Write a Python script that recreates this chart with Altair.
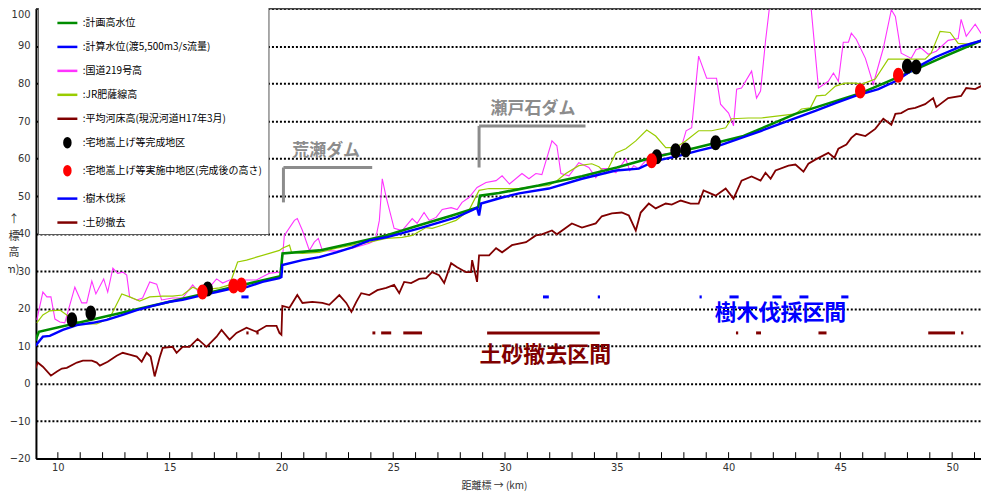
import altair as alt
import pandas as pd

# ---------------- data (km, elevation T.P.m) ----------------
plan_km = [9.0, 9.15, 19.95, 20.05, 21.70, 23.17, 24.69, 26.16, 27.63, 28.80, 28.88, 29.73,
           31.5, 33.44, 35.0, 36.56, 38.5, 40.67, 42.99, 45.94, 47.59, 49.69, 51.6]
plan_val = [11.5, 13.8, 28.6, 34.7, 35.5, 37.4, 39.5, 42.2, 44.8, 47.0, 50.1, 50.8,
            52.8, 55.3, 57.6, 60.2, 62.8, 66.0, 71.9, 77.5, 81.7, 87.3, 92.2]

calc_km = [9.0, 9.33, 9.64, 10.22, 10.85, 11.56, 12.19, 12.90, 13.53, 14.24, 15.0, 15.58, 16.47,
           17.10, 17.68, 18.44, 19.15, 19.91, 20.0, 20.04, 20.94, 21.7, 22.46, 23.17, 23.93, 24.69,
           25.40, 26.16, 26.92, 27.81, 28.53, 28.75, 28.84, 28.93, 29.87, 30.63, 31.96, 33.44, 34.96,
           35.98, 36.74, 37.77, 38.66, 39.55, 40.89, 41.47, 42.99, 43.88, 44.78, 45.67, 46.70, 47.46,
           48.35, 49.24, 50.40, 51.52]
calc_val = [10.1, 12.5, 12.7, 14.3, 15.6, 16.2, 17.0, 18.3, 19.6, 20.7, 21.8, 22.3, 23.6,
            24.4, 25.2, 25.7, 27.1, 28.1, 28.4, 31.6, 32.9, 33.7, 35.0, 36.3, 38.2, 39.0,
            40.1, 41.4, 42.7, 44.3, 46.2, 46.9, 44.8, 48.0, 49.6, 50.7, 52.0, 54.6, 56.8,
            57.3, 59.4, 60.7, 62.1, 63.4, 66.2, 67.4, 70.8, 72.7, 74.8, 76.7, 78.5, 80.6,
            84.1, 87.0, 89.9, 91.8]

road_km = [9.06, 9.33, 9.51, 9.69, 9.87, 10.09, 10.31, 10.76, 11.07, 11.29, 11.52, 11.70, 12.05,
           12.23, 12.46, 12.68, 12.90, 13.08, 13.21, 13.53, 13.79, 14.11, 14.42, 14.64, 15.13,
           15.58, 16.03, 16.34, 16.79, 17.10, 17.37, 17.68, 18.26, 18.88, 19.46, 19.91, 20.0,
           20.13, 20.58, 20.71, 20.94, 21.25, 21.47, 21.65, 21.83, 22.46, 23.17, 23.93, 24.20,
           24.38, 24.51, 24.69, 25.04, 25.40, 25.85, 26.07, 26.38, 26.61, 26.92, 27.19, 27.59,
           27.86, 28.08, 28.39, 28.75, 29.15, 29.60, 29.87, 30.2, 30.76, 31.07, 31.38, 31.65,
           32.10, 32.32, 32.50, 32.86, 33.30, 33.75, 34.06, 34.33, 34.64, 34.96, 35.40, 35.58,
           35.76, 35.98, 36.29, 36.74, 37.19, 37.77, 38.1, 38.35, 38.66, 39.02, 39.46, 39.64,
           40.0, 40.22, 40.36, 40.58, 41.03, 41.25, 41.43, 41.65, 42.0, 43.6, 44.02, 44.46,
           44.69, 44.91, 45.13, 45.36, 45.49, 45.71, 46.12, 46.47, 46.61, 46.92, 47.28, 47.46,
           47.72, 48.17, 48.39, 48.62, 48.93, 49.29, 49.82, 50.27, 50.40, 50.63, 51.03, 51.29,
           51.52]
road_val = [17.0, 24.4, 23.1, 23.1, 17.2, 16.4, 16.2, 25.7, 21.5, 21.5, 27.3, 23.9, 27.9,
            24.4, 30.8, 29.4, 29.7, 28.9, 23.1, 22.3, 22.8, 27.1, 26.5, 22.3, 22.8,
            22.8, 26.3, 24.1, 25.7, 27.9, 26.8, 27.6, 27.6, 27.6, 29.4, 29.7, 30.2,
            39.5, 43.5, 44.0, 40.8, 35.5, 37.7, 38.7, 35.5, 35.3, 36.1, 37.4, 38.2,
            43.5, 54.6, 49.6, 41.4, 40.8, 44.0, 42.7, 45.6, 43.5, 44.3, 46.4, 46.9,
            46.4, 48.3, 49.6, 52.3, 53.6, 54.1, 55.4, 53.2, 56.0, 54.6, 56.0, 55.7,
            64.7, 63.4, 56.0, 55.4, 58.9, 57.6, 54.9, 57.3, 57.3, 56.2, 59.9, 56.8,
            58.1, 57.3, 59.4, 60.7, 61.3, 60.7, 67.4, 68.2, 87.3, 81.4, 81.4, 74.5,
            72.1, 68.7, 78.5, 78.8, 83.3, 76.1, 78.0, 91.2, 109.0, 106.0, 78.8, 80.6,
            82.8, 80.6, 91.0, 91.0, 93.4, 91.8, 86.7, 79.8, 82.8, 89.4, 99.7, 97.9,
            88.1, 86.7, 89.1, 89.4, 87.8, 88.6, 91.5, 92.0, 97.1, 92.6, 95.8, 93.4,
            93.1]

jr_km = [9.06, 9.33, 9.64, 10.09, 10.40, 10.67, 11.12, 11.74, 12.32, 12.86, 13.21, 13.66, 14.11,
         14.69, 15.13, 15.58, 16.03, 16.34, 16.79, 17.23, 17.68, 18.04, 18.44, 18.88, 19.46,
         19.91, 20.04, 20.36, 20.45, 20.94, 21.70, 22.46, 23.17, 23.93, 24.69, 25.40, 25.85,
         26.47, 26.74, 27.19, 27.81, 28.39, 28.84, 29.29, 30.63, 31.21, 31.96, 32.32, 32.72,
         33.30, 33.88, 34.20, 34.51, 34.96, 35.40, 35.85, 36.34, 36.74, 37.19, 37.63, 38.08,
         38.66, 39.24, 39.87, 40.13, 40.89, 41.47, 42.99, 43.26, 43.66, 43.93, 44.33, 44.78,
         45.22, 45.71, 45.94, 46.56, 47.14, 47.72, 48.35, 48.79, 49.06, 49.46, 49.91, 50.27,
         50.71, 51.29, 51.52]
jr_val = [16.2, 18.3, 19.4, 19.6, 18.3, 17.0, 15.9, 15.9, 17.5, 23.9, 23.1, 22.0, 23.1,
          23.3, 23.3, 23.6, 25.7, 24.9, 25.2, 25.5, 26.3, 32.4, 32.9, 33.7, 34.7,
          35.5, 36.1, 36.9, 35.0, 34.7, 35.0, 36.1, 36.9, 37.7, 38.7, 39.0, 39.5,
          41.6, 41.4, 42.2, 43.5, 46.2, 51.5, 52.0, 52.0, 52.5, 52.8, 54.1, 56.0,
          58.1, 58.6, 57.8, 56.0, 61.5, 62.6, 64.7, 67.6, 66.0, 62.9, 62.9, 64.7,
          67.4, 67.4, 68.2, 70.6, 70.8, 70.8, 71.9, 73.2, 73.5, 76.7, 76.9, 79.3,
          80.1, 80.1, 79.8, 81.2, 86.5, 86.5, 86.5, 86.5, 88.1, 93.9, 93.6, 90.7,
          90.5, 91.5, 93.1]

bed_km = [9.0, 9.1, 9.33, 9.69, 9.96, 10.18, 10.40, 10.85, 11.12, 11.52, 11.74, 11.88, 12.23,
          12.63, 12.90, 13.21, 13.53, 13.75, 13.97, 14.15, 14.33, 14.55, 14.69, 15.13, 15.31,
          15.58, 15.89, 16.25, 16.65, 17.10, 17.32, 17.68, 17.99, 18.44, 18.88, 19.33, 19.78,
          19.91, 20.0, 20.04, 20.36, 20.71, 20.94, 21.38, 21.83, 22.14, 22.59, 22.90, 23.13,
          23.35, 23.57, 23.93, 24.29, 24.69, 25.04, 25.27, 25.49, 25.80, 26.16, 26.47, 26.74,
          27.05, 27.28, 27.59, 27.86, 28.26, 28.48, 28.53, 28.75, 28.84, 29.29, 29.60, 29.87,
          30.31, 30.94, 31.38, 31.65, 32.10, 32.32, 32.99, 33.44, 34.06, 34.33, 34.78, 35.22,
          35.54, 35.85, 36.07, 36.43, 36.74, 37.19, 37.46, 37.86, 38.30, 38.66, 38.88, 39.11,
          39.42, 39.87, 40.22, 40.58, 41.03, 41.43, 41.65, 41.88, 42.10, 42.68, 42.99, 43.35,
          43.57, 43.88, 44.46, 44.73, 44.91, 45.27, 45.49, 45.71, 46.12, 46.56, 46.92, 47.28,
          47.46, 47.72, 48.04, 48.35, 48.79, 49.15, 49.29, 49.82, 50.40, 50.63, 51.03, 51.29,
          51.52]
bed_val = [4.0, 5.6, 4.5, 2.1, 3.2, 4.0, 4.2, 5.6, 6.1, 6.1, 5.6, 4.8, 5.8,
           7.4, 8.2, 7.7, 7.2, 5.8, 8.2, 7.2, 1.9, 6.9, 9.5, 9.8, 8.2,
           9.8, 9.8, 11.9, 9.8, 12.5, 14.3, 11.7, 13.5, 14.9, 13.8, 15.4, 15.4,
           13.5, 13.0, 20.7, 20.2, 23.6, 21.5, 21.8, 21.5, 21.0, 23.6, 21.5, 19.1,
           21.8, 24.1, 23.6, 24.9, 25.5, 26.3, 24.1, 27.1, 26.8, 27.9, 28.1, 29.7,
           28.9, 26.8, 32.1, 31.0, 29.7, 29.7, 32.9, 27.1, 34.2, 34.2, 36.1, 35.0,
           36.9, 37.7, 39.5, 39.8, 40.8, 39.8, 42.7, 41.6, 42.7, 44.6, 45.4, 45.6,
           44.8, 40.8, 45.6, 48.0, 46.7, 48.0, 47.7, 48.8, 48.0, 48.0, 51.5, 50.9,
           50.1, 52.0, 49.3, 54.1, 55.2, 54.1, 56.2, 54.6, 56.8, 58.1, 58.4, 56.5,
           58.6, 59.7, 61.5, 60.2, 62.6, 63.7, 65.5, 66.6, 66.0, 67.9, 70.6, 69.0,
           71.9, 72.1, 73.2, 73.5, 74.5, 76.1, 73.7, 76.1, 76.7, 78.8, 78.5, 79.3,
           80.6]

done_km = [10.63, 11.47, 16.70, 36.79, 37.63, 38.08, 39.42, 47.99, 48.39]
done_val = [17.0, 18.8, 25.2, 60.5, 62.1, 62.3, 64.2, 84.6, 84.4]
wip_km = [16.47, 17.86, 18.21, 36.56, 45.89, 47.59]
wip_val = [24.4, 26.0, 26.3, 59.4, 78.0, 82.2]

# 樹木伐採 sections (start km, end km) drawn at one level
tree_start = [18.21, 31.70, 34.15, 38.70, 40.04, 41.96, 43.17, 45.04]
tree_end = [18.53, 31.96, 34.25, 38.80, 40.45, 42.37, 43.57, 45.36]
tree_level = 23.1
# 土砂撤去 sections
sed_start = [18.43, 18.88, 24.07, 24.46, 25.45, 29.20, 40.33, 41.23, 44.02, 48.93, 50.40]
sed_end = [18.53, 18.98, 24.20, 24.91, 26.29, 34.24, 40.43, 41.45, 44.38, 50.13, 50.50]
sed_level = 13.5

# dam brackets: vertical and horizontal pieces
dam_x1 = [20.09, 20.09, 28.84, 28.84]
dam_x2 = [20.09, 24.06, 28.84, 33.60]
dam_y1 = [48.3, 57.6, 57.6, 68.7]
dam_y2 = [57.6, 57.6, 68.7, 68.7]

label_text = ["荒瀬ダム", "瀬戸石ダム", "土砂撤去区間", "樹木伐採区間"]
label_km = [22.0, 31.25, 31.8, 42.32]
label_val = [62.1, 73.2, 7.7, 18.8]
label_color = ["#8c8c8c", "#8c8c8c", "#7f0000", "#0000ff"]
label_size = [17, 17, 22, 22]

x_ticks = [10, 15, 20, 25, 30, 35, 40, 45, 50]
x_minor = list(range(10, 52))
y_ticks = [-20, -10, 0, 10, 20, 30, 40, 50, 60, 70, 80, 90, 100]

names = ["計画高水位", "計算水位(渡5,500m3/s流量)", "国道219号高", "JR肥薩線高",
         "平均河床高(現況河道H17年3月)", "宅地嵩上げ等完成地区",
         "宅地嵩上げ等実施中地区(完成後の高さ)", "樹木伐採", "土砂撤去"]

# ---------------- styling ----------------
GREEN = "#008c00"
BLUE = "#0000ff"
MAGENTA = "#ff33ff"
JRC = "#99cc00"
BROWN = "#800000"
colors = [GREEN, BLUE, MAGENTA, JRC, BROWN, "#000000", "#ff0000", BLUE, BROWN]
LEG_ELL = "M0,-0.45A0.3,0.45,0,1,1,0,0.45A0.3,0.45,0,1,1,0,-0.45Z"
DOT_ELL = "M0,-0.6A0.42,0.6,0,1,1,0,0.6A0.42,0.6,0,1,1,0,-0.6Z"
shapes = ["stroke", "stroke", "stroke", "stroke", "stroke", LEG_ELL, LEG_ELL, "stroke", "stroke"]

CJK = "Noto Sans CJK JP"
NUM = "Liberation Sans Narrow, DejaVu Sans Condensed, Arial Narrow, sans-serif"

XS = alt.Scale(domain=[9.02, 51.29], nice=False, zero=False)
YS = alt.Scale(domain=[-20, 100], nice=False, zero=False)

x_axis = alt.Axis(values=x_ticks, grid=False, ticks=False, domainColor="black", domainWidth=2,
                  labelFont=NUM, labelFontSize=11, labelColor="#333333", labelPadding=3,
                  format="d", title="距離標 → (km)", titleFont=CJK, titleFontSize=10,
                  titleFontWeight="normal", titleColor="#333333", titleX=459, titleY=27,
                  titleBaseline="middle")
y_axis = alt.Axis(values=y_ticks, grid=True, gridColor="black", gridDash=[2, 2], gridWidth=2,
                  ticks=False, domainColor="black", domainWidth=2, labelFont=NUM,
                  labelFontSize=11, labelColor="#333333", labelPadding=6,
                  labelBaseline={"condition": {"test": "datum.value >= 100", "value": "top"},
                                 "value": "middle"},
                  title=["↑", "標", "高", "(T.P.m)"], titleAngle=0, titleX=-17, titleY=211,
                  titleAlign="right", titleBaseline="middle", titleLineHeight=17,
                  titleFont=CJK, titleFontSize=11, titleFontWeight="normal", titleColor="#333333")


def xq(field):
    return alt.X(field, type="quantitative", scale=XS, axis=x_axis)


def yq(field):
    return alt.Y(field, type="quantitative", scale=YS, axis=y_axis)


def line_layer(km, val, color, width):
    df = pd.DataFrame({"km": km, "val": val})
    return alt.Chart(df).mark_line(color=color, strokeWidth=width, clip=True).encode(
        x=xq("km"), y=yq("val"))


layers = []
layers.append(line_layer(bed_km, bed_val, BROWN, 1.8))
layers.append(line_layer(road_km, road_val, MAGENTA, 1.1))
layers.append(line_layer(jr_km, jr_val, JRC, 1.2))
layers.append(line_layer(plan_km, plan_val, GREEN, 2.6))
layers.append(line_layer(calc_km, calc_val, BLUE, 2.4))

# top border
layers.append(alt.Chart(pd.DataFrame({"v": [100]})).mark_rule(color="#444444", strokeWidth=2).encode(
    y=alt.Y("v:Q", scale=YS, axis=y_axis)))

# inward minor ticks on x axis
tick_df = pd.DataFrame({"km": x_minor, "y0": [-20] * len(x_minor), "y1": [-18.3] * len(x_minor)})
layers.append(alt.Chart(tick_df).mark_rule(color="black", strokeWidth=1).encode(
    x=xq("km"), y=yq("y0"), y2="y1"))

# treatment sections
tree_df = pd.DataFrame({"a": tree_start, "b": tree_end, "lv": [tree_level] * len(tree_start)})
layers.append(alt.Chart(tree_df).mark_rule(color=BLUE, strokeWidth=3).encode(
    x=xq("a"), x2="b", y=yq("lv")))
sed_df = pd.DataFrame({"a": sed_start, "b": sed_end, "lv": [sed_level] * len(sed_start)})
layers.append(alt.Chart(sed_df).mark_rule(color=BROWN, strokeWidth=3).encode(
    x=xq("a"), x2="b", y=yq("lv")))

# dam brackets
dam_df = pd.DataFrame({"x1": dam_x1, "x2": dam_x2, "y1": dam_y1, "y2": dam_y2})
layers.append(alt.Chart(dam_df).mark_rule(color="#8c8c8c", strokeWidth=3).encode(
    x=xq("x1"), x2="x2", y=yq("y1"), y2="y2"))

# annotation texts
lab_df = pd.DataFrame({"t": label_text, "km": label_km, "val": label_val,
                       "c": label_color, "s": label_size})
layers.append(alt.Chart(lab_df).mark_text(font=CJK, fontWeight="bold", baseline="middle",
                                          align="center").encode(
    x=xq("km"), y=yq("val"), text="t:N",
    color=alt.Color("c:N", scale=None, legend=None),
    size=alt.Size("s:Q", scale=None, legend=None)))

# dots
done_df = pd.DataFrame({"km": done_km, "val": done_val})
layers.append(alt.Chart(done_df).mark_point(shape=DOT_ELL, filled=True, size=625, color="black",
                                            opacity=1).encode(x=xq("km"), y=yq("val")))
wip_df = pd.DataFrame({"km": wip_km, "val": wip_val})
layers.append(alt.Chart(wip_df).mark_point(shape=DOT_ELL, filled=True, size=625, color="#ff0000",
                                           opacity=1).encode(x=xq("km"), y=yq("val")))

# legend (carried by an empty layer)
LEG = alt.Legend(title=None, orient="none", legendX=2, legendY=-3, fillColor="white",
                 strokeColor="#555555", padding=6, rowPadding=7, symbolSize=400,
                 symbolStrokeWidth=2.5, symbolOffset=12, labelOffset=4,
                 labelFont=CJK, labelFontSize=10, labelColor="#000000", labelLimit=400,
                 labelExpr="':' + datum.label")
leg_df = pd.DataFrame({"series": names, "km": [None] * len(names), "val": [None] * len(names)})
cscale = alt.Scale(domain=names, range=colors)
layers.append(alt.Chart(leg_df).mark_point(filled=True, opacity=1, size=400).encode(
    x=xq("km"), y=yq("val"),
    fill=alt.Fill("series:N", scale=cscale, legend=LEG, sort=names),
    stroke=alt.Stroke("series:N", scale=alt.Scale(domain=names, range=colors), legend=LEG, sort=names),
    shape=alt.Shape("series:N", scale=alt.Scale(domain=names, range=shapes), legend=LEG, sort=names)))

chart = alt.layer(*layers).properties(
    width=947, height=451,
    autosize=alt.AutoSizeParams(type="none"),
    padding={"left": 28, "top": 0, "right": 0, "bottom": 33},
    background="white",
).configure_view(stroke=None)

chart.save("out.html", embed_options={"renderer": "svg", "actions": False})
